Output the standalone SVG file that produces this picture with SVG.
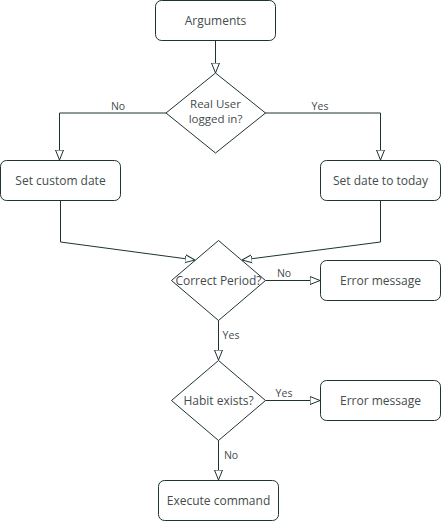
<svg xmlns="http://www.w3.org/2000/svg" width="441" height="521" viewBox="0 0 441 521">
<defs>
<marker id="ah" viewBox="0 0 10 10" refX="10" refY="5" markerWidth="10" markerHeight="10" markerUnits="userSpaceOnUse" orient="auto">
<path d="M0,1 L10,5 L0,9 Z" fill="#fff" stroke="#1e3333" stroke-width="1"/>
</marker>
<style>
.n{fill:#fff;stroke:#1e3333;stroke-width:1}
.t{font-family:"Open Sans","Noto Sans",sans-serif;font-size:12px;fill:#444c4c;text-anchor:middle}
.s{font-size:11.5px}
.l{font-family:"Open Sans","Noto Sans",sans-serif;font-size:10.5px;fill:#444c4c;text-anchor:middle}
.c{fill:none;stroke:#1e3333;stroke-width:1;marker-end:url(#ah)}
</style>
</defs>
<rect width="441" height="521" fill="#fff"/>
<g id="connectors">
<path class="c" d="M215.5,40.5 V73"/>
<path class="c" d="M166,113 H59.5 V160"/>
<path class="c" d="M265,113 H380.5 V160"/>
<path class="c" d="M60.5,200.5 V242 L195,260"/>
<path class="c" d="M380.5,200.5 V242 L242,260"/>
<path class="c" d="M265.5,280.5 H320"/>
<path class="c" d="M218.5,320 V360"/>
<path class="c" d="M265.5,400.5 H320"/>
<path class="c" d="M218.5,440 V480"/>
<text class="l" x="118" y="110">No</text>
<text class="l" x="320" y="110">Yes</text>
<text class="l" x="284" y="277">No</text>
<text class="l" x="231" y="339">Yes</text>
<text class="l" x="284" y="397">Yes</text>
<text class="l" x="231" y="459">No</text>
</g>
<g id="arguments"><rect class="n" x="155.5" y="0.5" width="120" height="40" rx="6"/><text class="t" x="215.5" y="25">Arguments</text></g>
<g id="real-user"><path class="n" d="M215.5,73 L265.5,113 L215.5,153 L166,113 Z"/><text class="t s" x="215.5" y="108">Real User</text><text class="t s" x="215.5" y="123">logged in?</text></g>
<g id="set-custom-date"><rect class="n" x="0.5" y="160.5" width="120" height="40" rx="6"/><text class="t" x="60.5" y="185">Set custom date</text></g>
<g id="set-date-today"><rect class="n" x="320.5" y="160.5" width="120" height="40" rx="6"/><text class="t" x="380.5" y="185">Set date to today</text></g>
<g id="correct-period"><path class="n" d="M218.5,240.5 L265.5,280.5 L218.5,320.5 L171.5,280.5 Z"/><text class="t" x="218.5" y="284.5">Correct Period?</text></g>
<g id="error-1"><rect class="n" x="320.5" y="260.5" width="120" height="40" rx="6"/><text class="t" x="380.5" y="285">Error message</text></g>
<g id="habit-exists"><path class="n" d="M218.5,360.5 L265.5,400.5 L218.5,440.5 L171.5,400.5 Z"/><text class="t" x="218.5" y="404.5">Habit exists?</text></g>
<g id="error-2"><rect class="n" x="320.5" y="380.5" width="120" height="40" rx="6"/><text class="t" x="380.5" y="405">Error message</text></g>
<g id="execute"><rect class="n" x="158.5" y="480.5" width="120" height="40" rx="6"/><text class="t" x="218.5" y="505">Execute command</text></g>
</svg>
